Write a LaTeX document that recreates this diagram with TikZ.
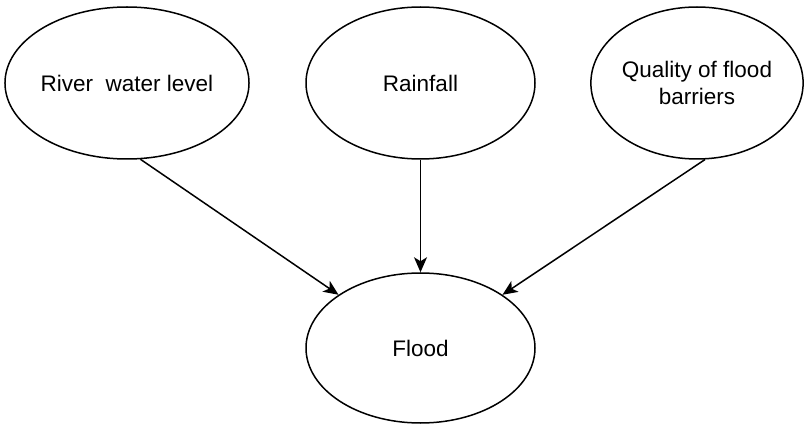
\documentclass[tikz,border=0pt]{standalone}
\usepackage{fontspec}
\setmainfont{Liberation Sans}
\usetikzlibrary{shapes.geometric,arrows.meta}
\begin{document}
\begin{tikzpicture}[x=1pt,y=-1pt,
  factor/.style={draw=black,line width=1.5pt,ellipse,inner sep=0pt,
    minimum width=#1,minimum height=152pt,align=center,
    font=\fontsize{22.5}{27}\selectfont},
  factor/.default=229pt,
  link/.style={draw=black,line width=1.5pt,-{Stealth[length=15pt,width=13pt,inset=4pt]}}]
\useasboundingbox (0,0) rectangle (807,425);
\fill[white] (0,0) rectangle (807,425);
% parent variables
\node[factor] (river) at (127,83) {River~ water level};
\node[factor] (rain) at (420.5,83) {Rainfall};
\node[factor=210pt] (quality) at (697,83) {Quality of flood\\barriers};
% child variable
\node[factor,minimum height=150pt] (flood) at (420.5,348) {Flood};
% influences
\draw[link] (river.-80) -- (flood.147);
\draw[link] (rain) -- (flood);
\draw[link] (quality.-84) -- (flood.33);
\end{tikzpicture}
\end{document}
